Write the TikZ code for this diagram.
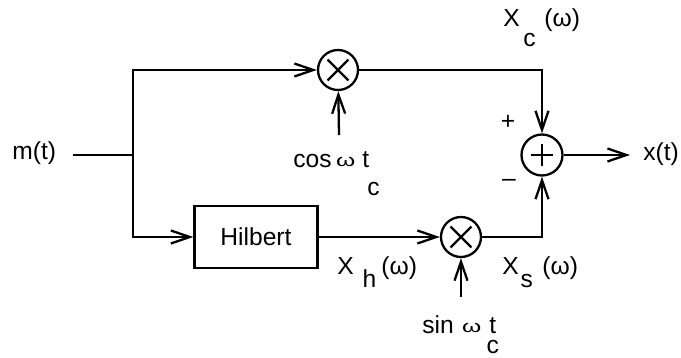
\documentclass[tikz,border=0pt]{standalone}
\usepackage{fontspec}
\setmainfont{Liberation Sans}
\usetikzlibrary{arrows.meta,positioning}
\newcommand{\omflat}{\raisebox{1pt}{\scalebox{1}[0.7]{ω}}}
\tikzset{wire/.style={line width=1.3pt},
  sig/.style={wire,-{Straight Barb[length=3.8mm,width=2.6mm]}},
  mixer/.style={circle,draw,line width=1.3pt,minimum size=0.8cm,inner sep=0pt,
    path picture={\draw[line width=1.3pt] ([shift={(-0.21cm,-0.21cm)}]path picture bounding box.center) -- ++(0.42cm,0.42cm)
      ([shift={(-0.21cm,0.21cm)}]path picture bounding box.center) -- ++(0.42cm,-0.42cm);}},
  adder/.style={circle,draw,line width=1.3pt,minimum size=0.82cm,inner sep=0pt,
    path picture={\draw[line width=1.3pt] ([xshift=-0.23cm]path picture bounding box.center) -- ++(0.46cm,0)
      ([yshift=-0.23cm]path picture bounding box.center) -- ++(0,0.46cm);}},
  blk/.style={draw,line width=1.3pt,minimum width=2.46cm,minimum height=1.24cm},
  lbl/.style={inner sep=0pt}}
\begin{document}
\begin{tikzpicture}[x=0.02cm,y=-0.02cm,font=\fontsize{14}{16}\selectfont]
\useasboundingbox (0,0) rectangle (681,358);
% blocks
\node[blk] (hil) at (256,237) {Hilbert};
\node[mixer] (mc) at (338,70) {};
\node[mixer] (ms) at (461,237) {};
\node[adder] (sum) at (542,155) {};
% free ends
\coordinate (in) at (73,155);
\coordinate (split) at (133,155);
\coordinate (cosin) at (339,135);
\coordinate (sinin) at (461,297);
\coordinate (out) at (630,155);
% connectors
\draw[wire] (in) -- (split);
\draw[sig] (split) |- (mc);
\draw[sig] (split) |- (hil);
\draw[sig] (hil) -- (ms);
\draw[sig] (cosin) -- (mc);
\draw[sig] (sinin) -- (ms);
\draw[sig] (mc) -| (sum);
\draw[sig] (ms) -| (sum);
\draw[sig] (sum) -- (out);
% labels
\node[lbl,anchor=base west] (mlbl) at (12,160) {m(t)};
\node[lbl,anchor=base west] (xlbl) at (643,161) {x(t)};
\node[lbl] (plus) at (508,122) {+};
\node[lbl] (minus) at (509,183) {–};
\node[lbl,anchor=base west] (coslbl) at (293,168) {cos\kern2.5pt\omflat\kern4pt t\rlap{\kern-1pt\raisebox{-15.4pt}{c}}};
\node[lbl,anchor=base west] (sinlbl) at (422,334) {sin\kern4.8pt\omflat\kern4.5pt t\rlap{\kern-5.5pt\raisebox{-11.3pt}{c}}};
\node[lbl,anchor=base west] (xclbl) at (503,27) {X\kern2pt\raisebox{-11pt}{c}\kern5pt(ω)};
\node[lbl,anchor=base west] (xhlbl) at (337,275) {X\kern5pt\raisebox{-7.4pt}{h}\kern3pt(ω)};
\node[lbl,anchor=base west] (xslbl) at (502,275) {X\kern1pt\raisebox{-7.4pt}{s}\kern5.5pt(ω)};
\end{tikzpicture}
\end{document}
